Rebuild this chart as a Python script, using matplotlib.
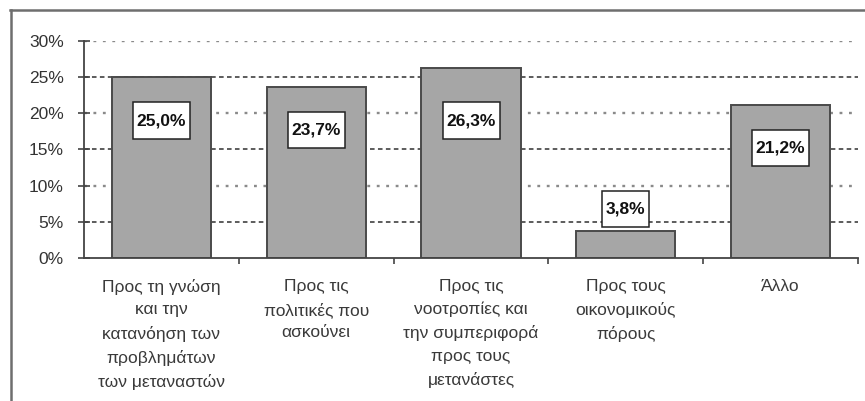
import matplotlib.pyplot as plt
from matplotlib.lines import Line2D
from matplotlib.path import Path
from matplotlib.ticker import FuncFormatter

# survey answers (share of respondents, %)
categories = [
    "Προς τη γνώση\nκαι την\nκατανόηση των\nπροβλημάτων\nτων μεταναστών",
    "Προς τις\nπολιτικές που\nασκούνει",
    "Προς τις\nνοοτροπίες και\nτην συμπεριφορά\nπρος τους\nμετανάστες",
    "Προς τους\nοικονομικούς\nπόρους",
    "Άλλο",
]
values = [25.0, 23.7, 26.3, 3.8, 21.2]
value_labels = ["25,0%", "23,7%", "26,3%", "3,8%", "21,2%"]
yticks = [0, 5, 10, 15, 20, 25, 30]

plt.rcParams['font.family'] = ['Liberation Sans', 'DejaVu Sans']


def tall_box(x0, y0, width, height, mutation_size):
    # rectangle with more padding above/below than at the sides
    px, py = 0.22 * mutation_size, 0.62 * mutation_size
    x0, y0 = x0 - px, y0 - py
    x1, y1 = x0 + width + 2 * px, y0 + height + 2 * py
    return Path([(x0, y0), (x1, y0), (x1, y1), (x0, y1), (x0, y0)],
                closed=True)


fig = plt.figure(figsize=(8.65, 4.01), dpi=100)
ax = fig.add_axes([0.0971, 0.3566, 0.8949, 0.5412])

# gridlines: dotted on the tens, dashed on the fives
for t in yticks[1:]:
    if t % 10 == 0:
        ax.axhline(t, color='#8a8a8a', lw=1.7, dashes=(1.2, 2.8), zorder=0)
    else:
        ax.axhline(t, color='#303030', lw=1.1, dashes=(3.0, 2.2), zorder=0)

x = range(len(values))
ax.bar(x, values, width=0.64, color='#a6a6a6', edgecolor='#4a4a4a',
       linewidth=1.4, zorder=2)

for i, (v, s) in enumerate(zip(values, value_labels)):
    y = min(v - 6, 19) if v > 10 else v + 3.0
    ax.text(i, y, s, ha='center', va='center', fontsize=12.5, fontweight='bold',
            color='#111111', zorder=3,
            bbox=dict(boxstyle=tall_box, fc='white', ec='#222222', lw=1.1))

ax.set_xlim(-0.5, 4.5)
ax.set_ylim(0, 30)
ax.set_yticks(yticks)
ax.yaxis.set_major_formatter(FuncFormatter(lambda v, p: f"{v:.0f}%"))
ax.set_xticks([i + 0.5 for i in x])
ax.set_xticklabels([])
ax.tick_params(axis='y', direction='inout', length=9, width=1.2, color='#444444',
               labelsize=12.5, labelcolor='#333333', pad=10)
ax.tick_params(axis='x', direction='out', length=4, width=1.2, color='#444444')

for i, c in enumerate(categories):
    ax.text(i, -0.097, c, transform=ax.get_xaxis_transform(), ha='center',
            va='top', fontsize=12.5, color='#3a3a3a', linespacing=1.62)

for side in ('top', 'right'):
    ax.spines[side].set_visible(False)
for side in ('left', 'bottom'):
    ax.spines[side].set_color('#444444')
    ax.spines[side].set_linewidth(1.3)

# chart frame, top and left edges
fig.add_artist(Line2D([10 / 865, 1.0], [1 - 10 / 401] * 2, color='#6e6e6e', lw=1.8))
fig.add_artist(Line2D([11 / 865] * 2, [0, 1 - 10 / 401], color='#6e6e6e', lw=1.8))

fig.savefig('out.png', dpi=100)
